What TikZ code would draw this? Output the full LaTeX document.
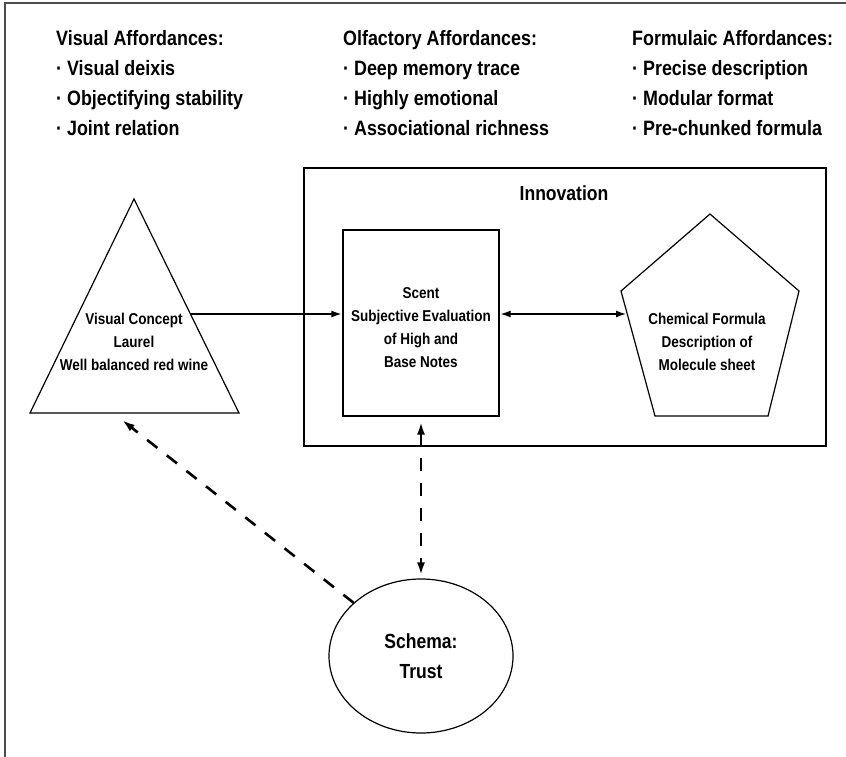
\documentclass[tikz,border=0pt]{standalone}
\usepackage{fontspec}
\setmainfont{Liberation Sans}
\newfontfamily\narrowsans{Liberation Sans}[FakeStretch=0.86]
\usetikzlibrary{arrows.meta,shapes.geometric}
\begin{document}
\begin{tikzpicture}[x=1pt,y=-1pt,
  hdr/.style={font=\narrowsans\fontsize{20.8}{30}\selectfont\bfseries, anchor=base west, inner sep=0pt},
  inner/.style={font=\narrowsans\fontsize{15.7}{23}\selectfont\bfseries, align=center, inner sep=0pt},
  big/.style={font=\narrowsans\fontsize{20.4}{30}\selectfont\bfseries, align=center, inner sep=0pt},
  outline/.style={draw, line width=1.2pt},
  frameline/.style={draw=black!70, line width=1.5pt},
  solidarrow/.style={line width=2.4pt, -{Latex[length=11pt,width=7pt]}},
  dblarrow/.style={line width=2.4pt, {Latex[length=11pt,width=7pt]}-{Latex[length=11pt,width=7pt]}},
  dasharrow/.style={line width=2.6pt, dash pattern=on 13pt off 12pt, -{Latex[length=13pt,width=8pt]}},
  dbldasharrow/.style={line width=2.6pt, dash pattern=on 13pt off 12pt, {Latex[length=13pt,width=8pt]}-{Latex[length=13pt,width=8pt]}}
]
\useasboundingbox (0,0) rectangle (846,757);

% partial frame
\draw[frameline] (5,757) -- (5,3) -- (846,3);

% headers
\node[hdr] (vh) at (56,46)  {Visual Affordances:};
\node[hdr] (v1) at (56,76)  {· Visual deixis};
\node[hdr] (v2) at (56,106) {· Objectifying stability};
\node[hdr] (v3) at (56,136) {· Joint relation};

\node[hdr] (oh) at (343,46)  {Olfactory Affordances:};
\node[hdr] (o1) at (343,76)  {· Deep memory trace};
\node[hdr] (o2) at (343,106) {· Highly emotional};
\node[hdr] (o3) at (343,136) {· Associational richness};

\node[hdr] (fh) at (632,46)  {Formulaic Affordances:};
\node[hdr] (f1) at (632,76)  {· Precise description};
\node[hdr] (f2) at (632,106) {· Modular format};
\node[hdr] (f3) at (632,136) {· Pre-chunked formula};

% Innovation box
\node[outline, minimum width=522pt, minimum height=278pt, inner sep=0pt] (innov) at (565,307) {};
\node[big] (innovtitle) at (564,193) {Innovation};

% Scent box
\node[outline, minimum width=156pt, minimum height=186pt, inner sep=0pt] (scent) at (421,323) {};
\node[inner] (scenttext) at (421,328) {Scent\\Subjective Evaluation\\of High and\\Base Notes};

% Triangle
\coordinate (tA) at (134,199);
\coordinate (tR) at (239,413);
\coordinate (tL) at (30,413);
\draw[outline] (tA) -- (tR) -- (tL) -- cycle;
\node[inner] (visual) at (134,341.5) {Visual Concept\\Laurel\\Well balanced red wine};

% Pentagon
\coordinate (pT) at (710,214);
\coordinate (pUR) at (799,291);
\coordinate (pLR) at (768,416);
\coordinate (pLL) at (655,416);
\coordinate (pUL) at (621,291);
\draw[outline] (pT) -- (pUR) -- (pLR) -- (pLL) -- (pUL) -- cycle;
\node[inner] (chem) at (707,341.5) {Chemical Formula\\Description of\\Molecule sheet};

% Ellipse
\node[ellipse, outline, minimum width=184pt, minimum height=154pt, inner sep=0pt, big] (schema) at (421,656) {Schema:\\Trust};

% connectors
\coordinate (tE) at (191,314);
\coordinate (pE) at (627,314);
\coordinate (vtip) at (122,420);
\draw[solidarrow] (tE) -- (tE -| scent.west);
\draw[dblarrow] (pE -| scent.east) -- (pE);
\draw[dbldasharrow, shorten <=5pt, shorten >=3pt] (scent.south) -- (schema.north);
\draw[dasharrow] (schema) -- (vtip);
\end{tikzpicture}
\end{document}
